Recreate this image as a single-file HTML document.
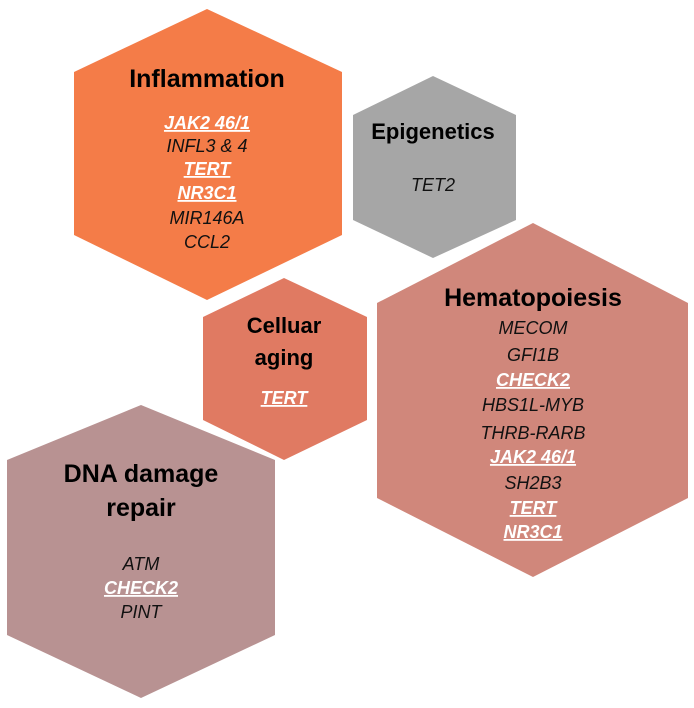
<!DOCTYPE html>
<html><head><meta charset="utf-8"><style>
html,body{margin:0;padding:0;background:#fff;}
svg{display:block;}
text{font-family:"Liberation Sans",Arial,sans-serif;text-anchor:middle;}
.t{font-weight:bold;font-size:25px;fill:#000;}
.g{font-style:italic;font-size:18px;fill:#111;}
.u{font-style:italic;font-weight:bold;font-size:18px;fill:#fff;text-decoration:underline;}
</style></head><body>
<svg width="694" height="708" viewBox="0 0 694 708" xmlns="http://www.w3.org/2000/svg">
<polygon points="207,9 342,72 342,235 207,300 74,235 74,72" fill="#F47C48"/>
<polygon points="433,76 516,115 516,220 433,258 353,220 353,115" fill="#A6A6A6"/>
<polygon points="533,223 688,303 688,498 533,577 377,498 377,303" fill="#D0877B"/>
<polygon points="284,278 367,317 367,420 284,460 203,420 203,317" fill="#E07A62"/>
<polygon points="141,405 275,460 275,635 141,698 7,635 7,460" fill="#B89292"/>

<text class="t" x="207" y="87">Inflammation</text>
<text class="u" x="207" y="129">JAK2 46/1</text>
<text class="g" x="207" y="152">INFL3 &amp; 4</text>
<text class="u" x="207" y="175">TERT</text>
<text class="u" x="207" y="199">NR3C1</text>
<text class="g" x="207" y="224">MIR146A</text>
<text class="g" x="207" y="248">CCL2</text>

<text class="t" x="433" y="139" style="font-size:22px">Epigenetics</text>
<text class="g" x="433" y="191">TET2</text>

<text class="t" x="533" y="306">Hematopoiesis</text>
<text class="g" x="533" y="334">MECOM</text>
<text class="g" x="533" y="361">GFI1B</text>
<text class="u" x="533" y="386">CHECK2</text>
<text class="g" x="533" y="411">HBS1L-MYB</text>
<text class="g" x="533" y="439">THRB-RARB</text>
<text class="u" x="533" y="463">JAK2 46/1</text>
<text class="g" x="533" y="489">SH2B3</text>
<text class="u" x="533" y="514">TERT</text>
<text class="u" x="533" y="538">NR3C1</text>

<text class="t" x="284" y="333" style="font-size:22px">Celluar</text>
<text class="t" x="284" y="365" style="font-size:22px">aging</text>
<text class="u" x="284" y="404">TERT</text>

<text class="t" x="141" y="482">DNA damage</text>
<text class="t" x="141" y="516">repair</text>
<text class="g" x="141" y="570">ATM</text>
<text class="u" x="141" y="594">CHECK2</text>
<text class="g" x="141" y="618">PINT</text>
</svg>
</body></html>
